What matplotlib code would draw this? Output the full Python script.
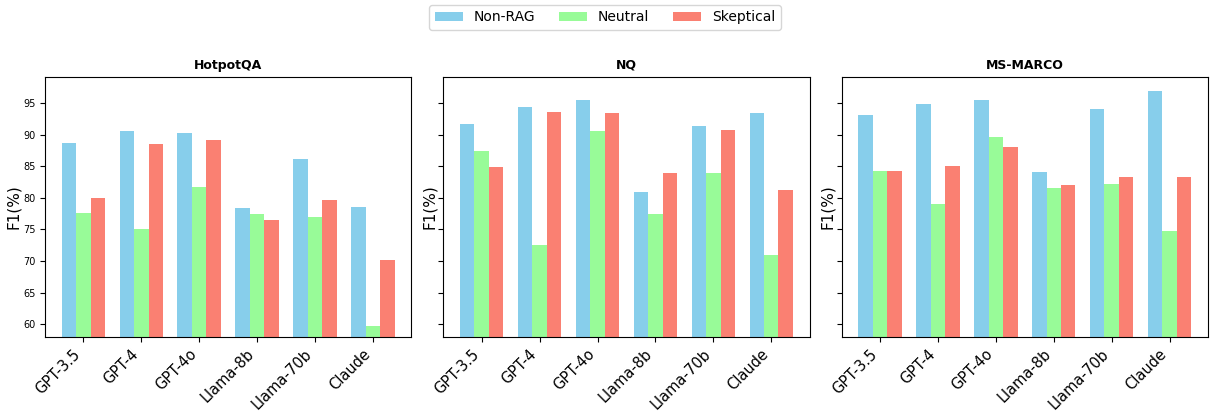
import numpy as np
import matplotlib
matplotlib.use("Agg")
import matplotlib.pyplot as plt

models = ["GPT-3.5", "GPT-4", "GPT-4o", "Llama-8b", "Llama-70b", "Claude"]
datasets = ["HotpotQA", "NQ", "MS-MARCO"]

# F1 (%) per dataset, per model
hotpot_non_rag = [88.6, 90.5, 90.2, 78.4, 86.1, 78.6]
hotpot_neutral = [77.6, 75.0, 81.7, 77.4, 76.9, 59.7]
hotpot_skeptical = [80.0, 88.5, 89.2, 76.5, 79.6, 70.2]

nq_non_rag = [91.6, 94.3, 95.5, 80.9, 91.3, 93.4]
nq_neutral = [87.4, 72.6, 90.5, 77.4, 84.0, 71.0]
nq_skeptical = [84.8, 93.5, 93.4, 84.0, 90.7, 81.2]

msmarco_non_rag = [93.1, 94.9, 95.4, 84.1, 94.0, 96.9]
msmarco_neutral = [84.2, 79.0, 89.6, 81.5, 82.2, 74.7]
msmarco_skeptical = [84.2, 85.0, 88.1, 82.0, 83.3, 83.3]

settings = ["Non-RAG", "Neutral", "Skeptical"]
colors = ["skyblue", "palegreen", "salmon"]

results = {
    "HotpotQA": [hotpot_non_rag, hotpot_neutral, hotpot_skeptical],
    "NQ": [nq_non_rag, nq_neutral, nq_skeptical],
    "MS-MARCO": [msmarco_non_rag, msmarco_neutral, msmarco_skeptical],
}

fig, axes = plt.subplots(1, 3, figsize=(12.1, 4.11), dpi=100, sharey=True)
fig.subplots_adjust(left=0.0372, right=0.9983, top=0.8127, bottom=0.18, wspace=0.0874)

x = np.arange(len(models))
width = 0.25

for ax, name in zip(axes, datasets):
    for i, (label, color) in enumerate(zip(settings, colors)):
        ax.bar(x + (i - 1) * width, results[name][i], width, label=label, color=color)
    ax.set_title(name, fontsize=9, fontweight="bold")
    ax.set_xticks(x)
    ax.set_xticklabels(models, rotation=45, ha="right", fontsize=10.5)
    ax.set_ylabel("F1(%)", fontsize=11, labelpad=1)
    ax.tick_params(axis="y", labelsize=7)
    ax.yaxis.set_tick_params(labelleft=(ax is axes[0]))

axes[0].set_ylim(58, 99.1)

handles, labels = axes[0].get_legend_handles_labels()
fig.legend(handles, labels, loc="upper center", ncol=3, fontsize=10,
           columnspacing=1.7, bbox_to_anchor=(0.5, 1.005))

plt.savefig("out.png", dpi=100)
